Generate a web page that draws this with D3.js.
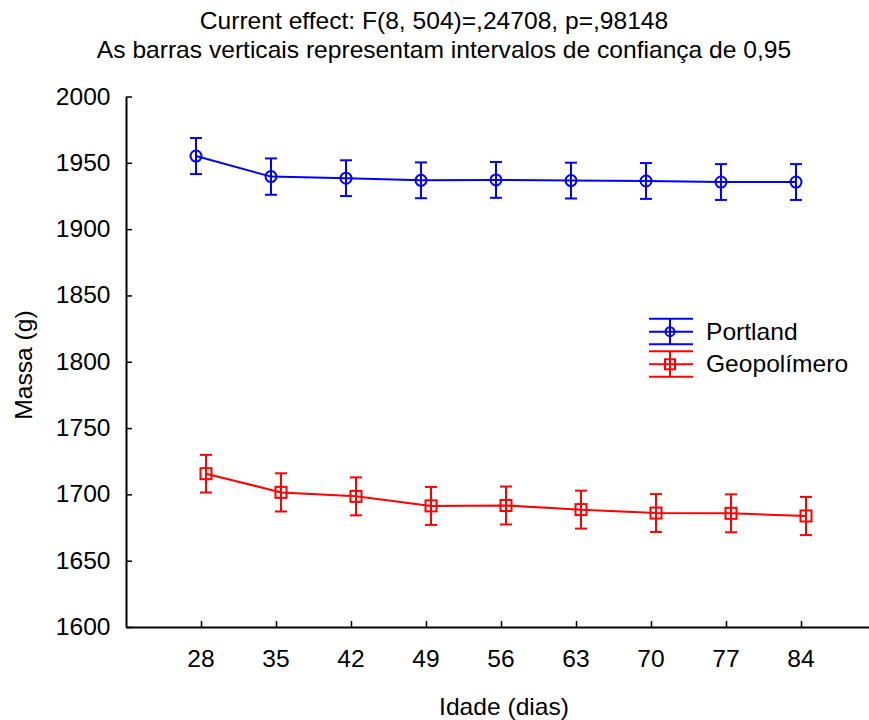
<!DOCTYPE html>
<html><head><meta charset="utf-8">
<script src="https://cdn.jsdelivr.net/npm/d3@7"></script>
<style>html,body{margin:0;padding:0;background:#fff;}svg{display:block;}</style>
</head><body>
<script>
// ---- data ----
const days = [28, 35, 42, 49, 56, 63, 70, 77, 84];
const portland = [1955.1, 1939.6, 1938.4, 1936.8, 1937.1, 1936.6, 1936.3, 1935.5, 1935.5];
const portlandCI = [13.6, 13.7, 13.5, 13.5, 13.5, 13.5, 13.5, 13.5, 13.5];
const geopol = [1715.6, 1701.5, 1698.5, 1691.3, 1691.6, 1688.5, 1685.9, 1685.7, 1683.7];
const geopolCI = [14.2, 14.4, 14.3, 14.3, 14.3, 14.3, 14.3, 14.3, 14.4];
const yTicks = [1600, 1650, 1700, 1750, 1800, 1850, 1900, 1950, 2000];
const seriesNames = ["Portland", "Geopolímero"];
const titleLines = ["Current effect: F(8, 504)=,24708, p=,98148",
                    "As barras verticais representam intervalos de confiança de 0,95"];
const xTitle = "Idade (dias)";
const yTitle = "Massa (g)";

const W = 869, H = 720;
const FONT = "'Liberation Sans', Arial, sans-serif";
const FS = 23, SX = 1.07;

const svg = d3.select("body").append("svg").attr("width", W).attr("height", H)
  .style("font-family", FONT);

const x = d3.scaleLinear().domain([21, 91]).range([126, 876]);
const y = d3.scaleLinear().domain([1600, 2000]).range([627, 96.5]);

function txt(g, s, tx, ty, anchor, rot) {
  return g.append("text")
    .attr("transform", `translate(${tx},${ty})` + (rot ? ` rotate(${rot})` : "") + ` scale(${SX},1)`)
    .attr("text-anchor", anchor).attr("font-size", FS).attr("fill", "#000").text(s);
}

// titles
txt(svg, titleLines[0], 434, 29, "middle");
txt(svg, titleLines[1], 444, 58, "middle");

// axes
const yAxis = d3.axisLeft(y).tickValues(yTicks).tickSizeInner(-6).tickSizeOuter(0).tickFormat(d3.format("d"));
const gy = svg.append("g").attr("transform", `translate(${x(21)},0)`).call(yAxis);
const xAxis = d3.axisBottom(x).tickValues(days).tickSizeInner(-6).tickSizeOuter(0).tickFormat(d3.format("d"));
const gx = svg.append("g").attr("transform", `translate(0,${y(1600)})`).call(xAxis);
[gx, gy].forEach(g => {
  g.select(".domain").attr("stroke", "#000").attr("stroke-width", 2);
  g.selectAll(".tick line").attr("stroke", "#000").attr("stroke-width", 1.5);
  g.selectAll(".tick text").remove();
});
gy.selectAll(".tick").each(function(d) {
  txt(svg, d3.format("d")(d), 110.5, y(d) + 8, "end");
});
gx.selectAll(".tick").each(function(d) {
  txt(svg, String(d), x(d), 667, "middle");
});
txt(svg, xTitle, 504, 715, "middle");
txt(svg, yTitle, 32, 365, "middle", -90);

// series
const series = [
  {vals: portland, ci: portlandCI, color: "#0000ff", off: -5, shape: "circle"},
  {vals: geopol, ci: geopolCI, color: "#ff0000", off: 5, shape: "square"}
];
series.forEach(s => {
  const g = svg.append("g");
  const pts = days.map((d, i) => [x(d) + s.off, y(s.vals[i])]);
  g.append("path").attr("d", d3.line()(pts)).attr("fill", "none")
    .attr("stroke", s.color).attr("stroke-width", 2);
  days.forEach((d, i) => {
    const cx = x(d) + s.off;
    const yt = y(s.vals[i] + s.ci[i]), yb = y(s.vals[i] - s.ci[i]);
    g.append("line").attr("x1", cx).attr("x2", cx).attr("y1", yt).attr("y2", yb)
      .attr("stroke", s.color).attr("stroke-width", 2);
    [yt, yb].forEach(yy => g.append("line").attr("x1", cx - 6).attr("x2", cx + 6)
      .attr("y1", yy).attr("y2", yy).attr("stroke", s.color).attr("stroke-width", 2));
    const cy = y(s.vals[i]);
    if (s.shape === "circle") {
      g.append("circle").attr("cx", cx).attr("cy", cy).attr("r", 5.5)
        .attr("fill", "none").attr("stroke", s.color).attr("stroke-width", 2);
    } else {
      g.append("rect").attr("x", cx - 5.5).attr("y", cy - 5.5).attr("width", 11).attr("height", 11)
        .attr("fill", "none").attr("stroke", s.color).attr("stroke-width", 2);
    }
  });
});

// legend
const legendY = [331.7, 364.3];
series.forEach((s, i) => {
  const g = svg.append("g");
  const cy = legendY[i];
  [-13, 0, 12.5].forEach(dy => g.append("line").attr("x1", 649).attr("x2", 693)
    .attr("y1", cy + dy).attr("y2", cy + dy).attr("stroke", s.color).attr("stroke-width", 2));
  g.append("line").attr("x1", 670).attr("x2", 670).attr("y1", cy - 13).attr("y2", cy + 12.5)
    .attr("stroke", s.color).attr("stroke-width", 2);
  if (s.shape === "circle") {
    g.append("circle").attr("cx", 670).attr("cy", cy).attr("r", 4.5)
      .attr("fill", "none").attr("stroke", s.color).attr("stroke-width", 2);
  } else {
    g.append("rect").attr("x", 665).attr("y", cy - 5).attr("width", 10).attr("height", 10)
      .attr("fill", "none").attr("stroke", s.color).attr("stroke-width", 2);
  }
  txt(svg, seriesNames[i], 706, cy + 8, "start");
});
</script>
</body></html>
